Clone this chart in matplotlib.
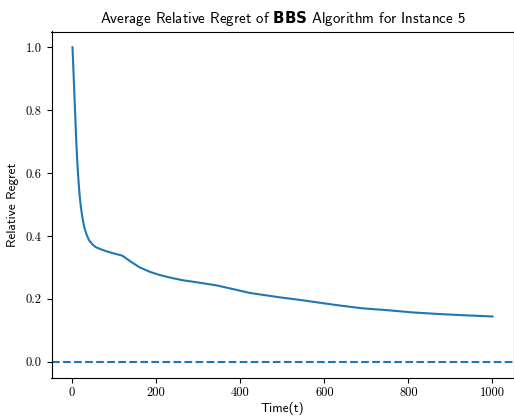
import matplotlib
matplotlib.use("Agg")
import matplotlib.pyplot as plt

# values
t = [1, 4, 7, 10, 12, 14, 16, 18, 21, 25, 29, 35, 41, 50, 57, 66,
     80, 95, 106, 118, 122, 140, 161, 185, 208, 235, 264, 300, 343, 380,
     422, 493, 540, 572, 630, 690, 750, 809, 870, 930, 1000]
regret = [1.0, 0.90, 0.80, 0.70, 0.645, 0.60, 0.563, 0.528,
          0.491, 0.455, 0.428, 0.402, 0.385, 0.371, 0.364, 0.359, 0.352,
          0.346, 0.342, 0.338, 0.335, 0.318, 0.300, 0.286, 0.276, 0.267,
          0.259, 0.252, 0.243, 0.232, 0.219, 0.205, 0.197, 0.191, 0.180,
          0.170, 0.164, 0.157, 0.152, 0.148, 0.144]

plt.rcParams['mathtext.fontset'] = 'custom'
plt.rcParams['mathtext.bf'] = 'DejaVu Sans:bold'
plt.rcParams['mathtext.rm'] = 'cmss10'
plt.rcParams['axes.unicode_minus'] = False

fig = plt.figure(figsize=(5.14, 4.18), dpi=100)
ax = fig.add_axes([51.5 / 514, 40.5 / 418, 462 / 514, 346 / 418])

ax.plot(t, regret, color='#1f77b4', linewidth=1.5)
ax.axhline(0, color='#1f77b4', linestyle='--', linewidth=1.5)

ax.set_title(r"Average Relative Regret of $\mathbf{BBS}$ Algorithm for Instance 5",
             family='cmss10', fontsize=10.8)
ax.set_xlabel("Time(t)", family='cmss10', fontsize=9.5, labelpad=2)
ax.set_ylabel("Relative Regret", family='cmss10', fontsize=9.5, labelpad=5)

for lab in ax.get_xticklabels() + ax.get_yticklabels():
    lab.set_family('cmr10')
    lab.set_fontsize(9)

fig.savefig("out.png", dpi=100)
